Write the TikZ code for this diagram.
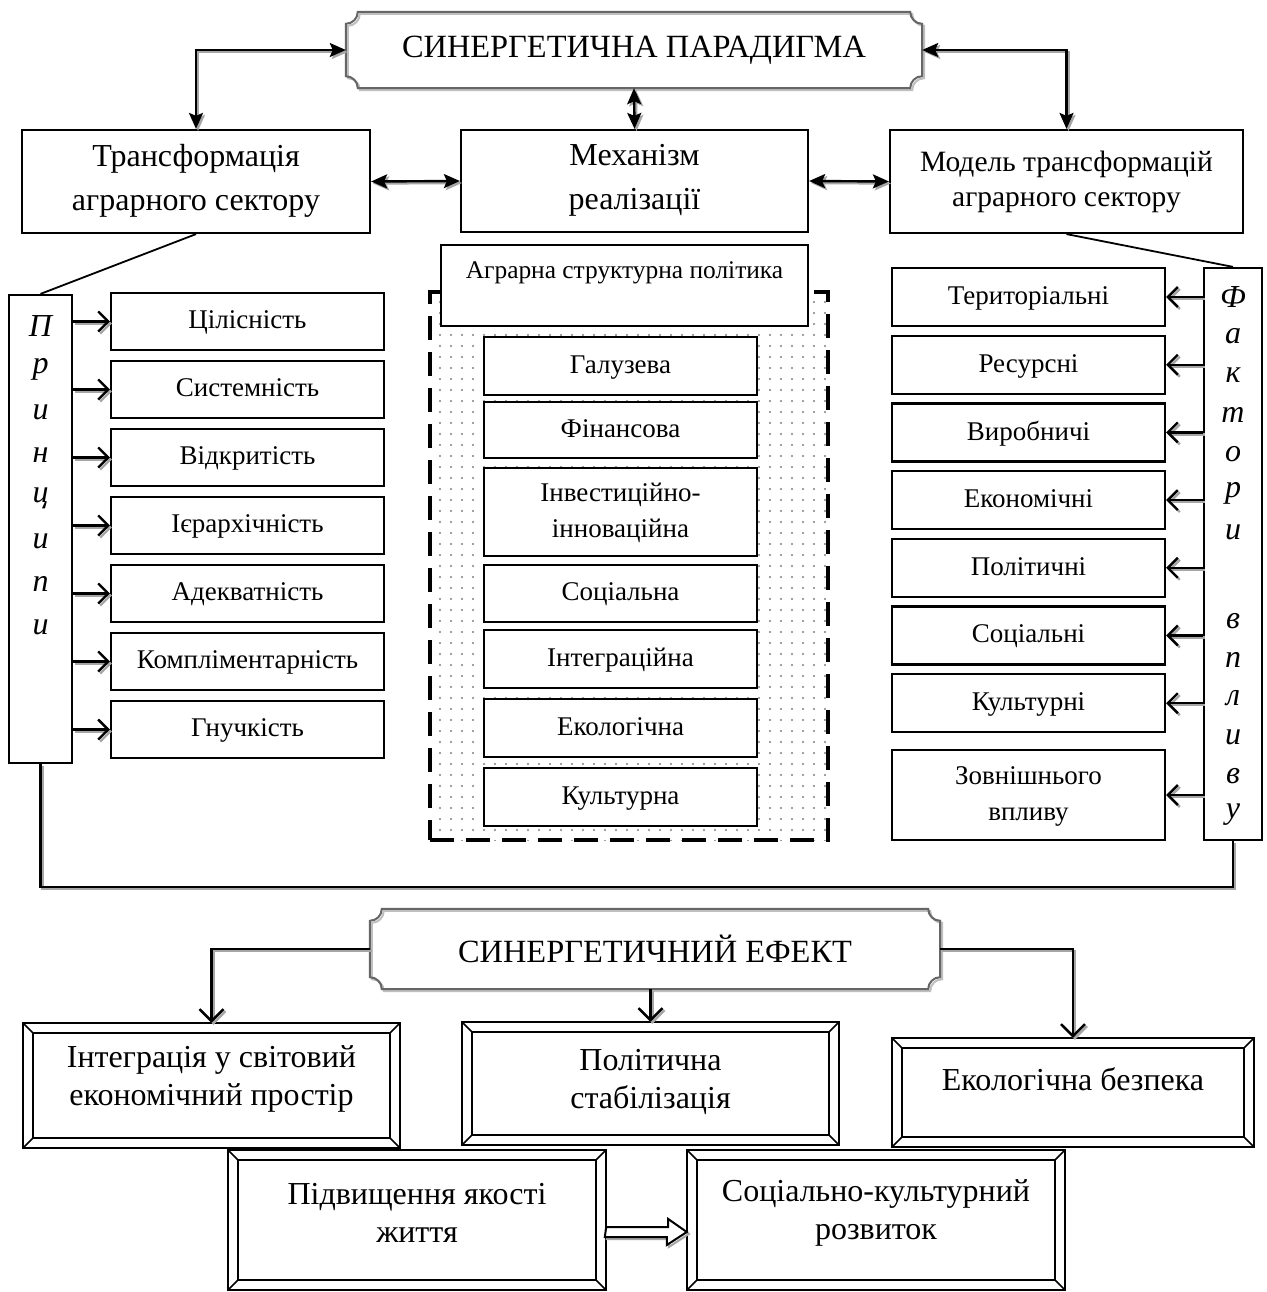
\documentclass[tikz,border=0pt]{standalone}
\usepackage{fontspec}
\setmainfont{Liberation Serif}
\usetikzlibrary{arrows.meta,calc,patterns.meta}
\newcommand\fTitle{\fontsize{32.4}{36}\selectfont}
\newcommand\fMain{\fontsize{32}{44}\selectfont}
\newcommand\fModel{\fontsize{29.5}{35}\selectfont}
\newcommand\fItem{\fontsize{27}{36}\selectfont}
\newcommand\fAgr{\fontsize{25.4}{28}\selectfont}
\newcommand\fLet{\fontsize{32}{34}\selectfont\itshape}
\newcommand\fBot{\fontsize{32}{38}\selectfont}
\tikzset{
  bx/.style={draw, line width=2.2pt, fill=white, inner sep=0pt, align=center},
  mainbox/.style={bx, font=\fMain},
  item/.style={bx, font=\fItem, minimum width=273pt, minimum height=57pt, text depth=3pt},
  lett/.style={inner sep=0pt, font=\fLet},
  txt/.style={inner sep=0pt, align=center},
  plqtext/.style={inner sep=0pt, font=\fTitle},
  conn/.style={line width=2.4pt, draw=black},
  shadowst/.style={draw=black!35, transform canvas={shift={(2,2)}}},
  dbl/.style={{Stealth[length=16pt,width=14pt,inset=3pt]}-{Stealth[length=16pt,width=14pt,inset=3pt]}},
  barb/.style={-{Straight Barb[length=10pt,width=20pt]}},
  bigbarb/.style={-{Straight Barb[length=12pt,width=24pt]}},
  plq/.style={line width=2pt, draw=black!60},
  plqsh/.style={line width=2pt, draw=black!25, transform canvas={shift={(2,2)}}},
  bev/.style={line width=2.4pt, draw=black},
  polbox/.style={draw, line width=4.5pt, dash pattern=on 24pt off 12pt,
    pattern={Dots[distance=11pt,radius=1.1pt]}, pattern color=black!50},
  blockarrow/.style={line width=2pt, draw=black, fill=white},
}
\newcommand\shd[2][]{\draw[conn,#1,shadowst] #2; \draw[conn,#1] #2;}
\newcommand\plaqpath[2]{($(#1.north west)+(#2,0)$) -- ($(#1.north east)+(-#2,0)$)
  arc[start angle=180,end angle=90,radius=#2]
  -- ($(#1.south east)+(0,-#2)$)
  arc[start angle=270,end angle=180,radius=#2]
  -- ($(#1.south west)+(#2,0)$)
  arc[start angle=0,end angle=-90,radius=#2]
  -- ($(#1.north west)+(0,#2)$)
  arc[start angle=90,end angle=0,radius=#2] -- cycle}
\newcommand\bevelbox[2]{% name, inset
  \draw[bev] (#1.north west) rectangle (#1.south east);
  \draw[bev] ($(#1.north west)+(#2,#2)$) rectangle ($(#1.south east)+(-#2,-#2)$);
  \draw[bev,line width=1.6pt] (#1.north west) -- +(#2,#2);
  \draw[bev,line width=1.6pt] (#1.north east) -- +(-#2,#2);
  \draw[bev,line width=1.6pt] (#1.south west) -- +(#2,-#2);
  \draw[bev,line width=1.6pt] (#1.south east) -- +(-#2,-#2);}
\begin{document}
\begin{tikzpicture}[x=1pt,y=-1pt]
\useasboundingbox[fill=white] (0,0) rectangle (1266,1292);

% ---------- top part
\node[plqtext, minimum width=576pt, minimum height=76pt] (title) at (634,50) {СИНЕРГЕТИЧНА ПАРАДИГМА};
\draw[plqsh] \plaqpath{title}{12};
\draw[plq] \plaqpath{title}{12};

\node[mainbox, minimum width=348pt, minimum height=103pt, text depth=8pt] (tr) at (196,181.5) {Трансформація\\аграрного сектору};
\node[mainbox, minimum width=347pt, minimum height=102pt, text depth=8pt] (mech) at (634.5,181) {Механізм\\реалізації};
\node[bx, font=\fModel, minimum width=353pt, minimum height=103pt] (model) at (1066.5,181.5) {Модель трансформацій\\аграрного сектору};

\shd[dbl]{(title.west) -| (tr.north)}
\shd[dbl]{(title.east) -| (model.north)}
\shd[dbl]{(title.south) -- (mech.north)}
\shd[dbl]{(tr.east) -- (mech.west)}
\shd[dbl]{(mech.east) -- (model.west)}

% ---------- left: principles
\node[bx, minimum width=63pt, minimum height=468pt] (pr) at (40.5,529) {};
\foreach \c [count=\i] in {П,р,и,н,ц,и,п,и}
  \node[lett] (pp\i) at (40.5,{326+43*(\i-1)}) {\c};
\draw[line width=1.8pt] (tr.south) -- (pr.north);
\foreach \t [count=\i from 0] in {Цілісність,Системність,Відкритість,Ієрархічність,Адекватність,Компліментарність,Гнучкість}{
  \node[item] (l\i) at (247.5,{321.5+68*\i}) {\t};
  \shd[barb]{(pr.east |- l\i.west) -- (l\i.west)}
}

% ---------- centre: policy
\node[polbox, minimum width=398pt, minimum height=548pt] (pol) at (629,566) {};
\node[bx, minimum width=367pt, minimum height=81pt] (agr) at (624.5,285.5) {};
\node[txt, font=\fAgr] (agrt) at (624.5,273) {Аграрна структурна політика};
\node[item, minimum height=58pt] (c1) at (620.5,366) {Галузева};
\node[item, minimum height=56pt] (c2) at (620.5,430) {Фінансова};
\node[item, minimum height=88pt] (c3) at (620.5,512) {Інвестиційно-\\інноваційна};
\node[item] (c4) at (620.5,593.5) {Соціальна};
\node[item, minimum height=58pt] (c5) at (620.5,659) {Інтеграційна};
\node[item, minimum height=58pt] (c6) at (620.5,728) {Екологічна};
\node[item, minimum height=58pt] (c7) at (620.5,797) {Культурна};

% ---------- right: factors
\node[bx, minimum width=58pt, minimum height=572pt] (fa) at (1233,554) {};
\foreach \c [count=\i] in {Ф,а,к,т,о,р,и}
  \node[lett] (fl\i) at (1233,{297+39.2*(\i-1)}) {\c};
\foreach \c [count=\i] in {в,п,л,и,в,у}
  \node[lett] (fm\i) at (1233,{621+38.8*(\i-1)}) {\c};
\draw[line width=1.8pt] (model.south) -- (fa.north);
\foreach \t [count=\i from 0] in {Територіальні,Ресурсні,Виробничі,Економічні,Політичні,Соціальні,Культурні}{
  \node[item, minimum height=58pt] (r\i) at (1028.5,{297+67.7*\i}) {\t};
  \shd[barb]{(fa.west |- r\i.east) -- (r\i.east)}
}
\node[item, minimum height=90pt] (r7) at (1028.5,795) {Зовнішнього\\впливу};
\shd[barb]{(fa.west |- r7.east) -- (r7.east)}

% ---------- joining line
\shd{(pr.south) -- ++(0,123) -| (fa.south)}

% ---------- bottom part
\node[plqtext, minimum width=570pt, minimum height=80pt] (eff) at (655,949) {СИНЕРГЕТИЧНИЙ ЕФЕКТ};
\draw[plqsh] \plaqpath{eff}{12};
\draw[plq] \plaqpath{eff}{12};

\node[minimum width=377pt, minimum height=125pt, inner sep=0pt] (b1) at (211.5,1085.5) {};
\node[minimum width=377pt, minimum height=123pt, inner sep=0pt] (b2) at (650.5,1083.5) {};
\node[minimum width=362pt, minimum height=109pt, inner sep=0pt] (b3) at (1073,1092.5) {};
\node[minimum width=378pt, minimum height=140pt, inner sep=0pt] (b4) at (417,1220) {};
\node[minimum width=378pt, minimum height=140pt, inner sep=0pt] (b5) at (876,1220) {};
\bevelbox{b1}{10}
\bevelbox{b2}{10}
\bevelbox{b3}{10}
\bevelbox{b4}{10}
\bevelbox{b5}{10}
\node[txt, font=\fBot] (b1t) at ($(b1)+(0,-7)$) {Інтеграція у світовий\\економічний простір};
\node[txt, font=\fBot] (b2t) at ($(b2)+(0,-2)$) {Політична\\стабілізація};
\node[txt, font=\fBot] (b3t) at ($(b3)+(0,-13)$) {Екологічна безпека};
\node[txt, font=\fBot] (b4t) at ($(b4)+(0,-7)$) {Підвищення якості\\життя};
\node[txt, font=\fBot] (b5t) at ($(b5)+(0,-7)$) {Соціально-культурний\\розвиток};

\shd[bigbarb]{(eff.west) -| (b1.north)}
\shd[bigbarb]{(b2.north |- eff.south) -- (b2.north)}
\shd[bigbarb]{(eff.east) -| (b3.north)}

% block arrow b4 -> b5
\coordinate (ba) at (b4.east |- 0,1232);
\draw[blockarrow, draw=black!35, transform canvas={shift={(2,2)}}] (ba) ++(0,-5) -- ++(62,0) -- ++(0,-8) -- (b5.west |- ba) -- ++(-20,13) -- ++(0,-8) -- ++(-62,0) -- cycle;
\draw[blockarrow] (ba) ++(0,-5) -- ++(62,0) -- ++(0,-8) -- (b5.west |- ba) -- ++(-20,13) -- ++(0,-8) -- ++(-62,0) -- cycle;
\end{tikzpicture}
\end{document}
